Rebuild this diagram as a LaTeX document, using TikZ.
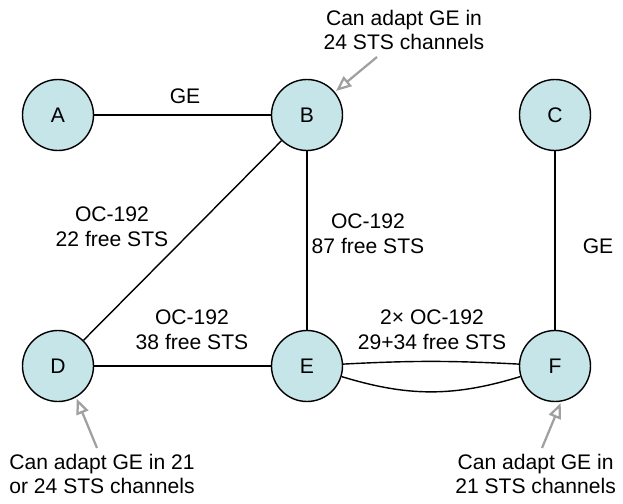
\documentclass[tikz,border=0pt]{standalone}
\usepackage{fontspec}
\setmainfont{Liberation Sans}
\usetikzlibrary{arrows.meta}

\definecolor{nodefill}{RGB}{198,229,233}
\definecolor{notegray}{RGB}{160,160,160}

\tikzset{
	site/.style={circle, draw=black, line width=1pt, fill=nodefill, minimum size=1.775cm, inner sep=0pt, font=\fontsize{15}{17}\selectfont},
	link/.style={line width=1pt},
	lbl/.style={align=center, inner sep=0pt, font=\fontsize{15}{17.5}\selectfont},
	pointer/.style={draw=notegray, line width=1.6pt, -{Triangle[open, length=11pt, width=9pt]}, shorten >=1pt}
}

\begin{document}
\begin{tikzpicture}
	\useasboundingbox (0,0) rectangle (15.575,12.575);
	% sites
	\node[site] (A) at (1.45, 9.7) {A};
	\node[site] (B) at (7.675, 9.7) {B};
	\node[site] (C) at (13.875, 9.7) {C};
	\node[site] (D) at (1.45, 3.425) {D};
	\node[site] (E) at (7.675, 3.425) {E};
	\node[site] (F) at (13.875, 3.425) {F};
	% links
	\draw[link] (A) -- (B);
	\draw[link] (B) -- (D);
	\draw[link] (B) -- (E);
	\draw[link] (D) -- (E);
	\draw[link] (C) -- (F);
	\draw[link] (E) to[bend left=3] (F);
	\draw[link] (E) to[bend right=17] (F);
	% link labels
	\node[lbl] (geAB) at (4.625, 10.175) {GE};
	\node[lbl] (ocBD) at (2.8, 6.9) {OC-192\\22 free STS};
	\node[lbl] (ocBE) at (9.2, 6.725) {OC-192\\87 free STS};
	\node[lbl] (geCF) at (14.95, 6.425) {GE};
	\node[lbl] (ocDE) at (4.8, 4.325) {OC-192\\38 free STS};
	\node[lbl] (ocEF) at (10.8, 4.325) {2\texttimes{} OC-192\\29+34 free STS};
	% notes
	\node[lbl] (noteB) at (10.1, 11.825) {Can adapt GE in\\24 STS channels};
	\node[lbl] (noteD) at (2.55, 0.725) {Can adapt GE in 21\\or 24 STS channels};
	\node[lbl] (noteF) at (13.39, 0.725) {Can adapt GE in\\21 STS channels};
	\coordinate (tailB) at (9.425, 11.15);
	\coordinate (tailD) at (2.425, 1.375);
	\coordinate (tailF) at (13.55, 1.375);
	\draw[pointer] (tailB) -- (B);
	\draw[pointer] (tailD) -- (D.-60);
	\draw[pointer] (tailF) -- (F.-80);
\end{tikzpicture}
\end{document}
